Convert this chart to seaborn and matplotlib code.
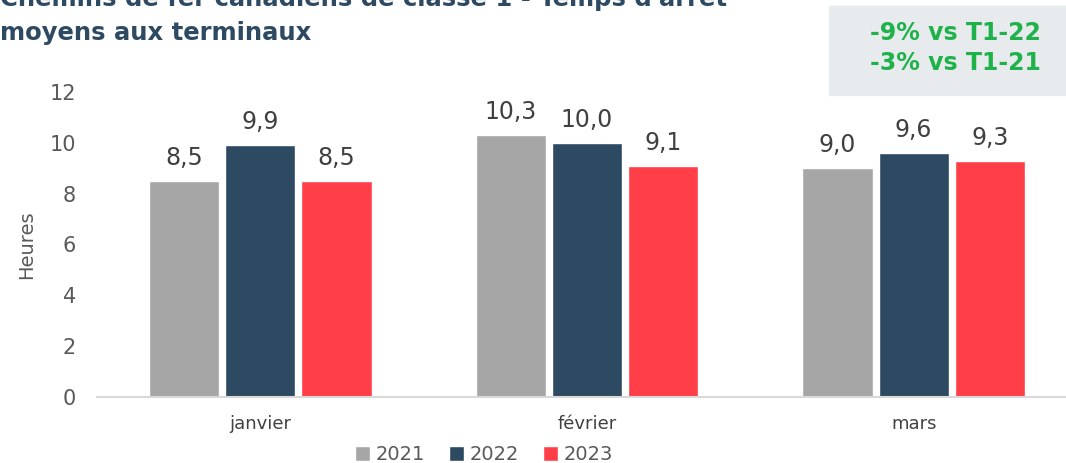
import pandas as pd
import matplotlib.pyplot as plt
import seaborn as sns
from matplotlib.patches import Rectangle

# data
mois = ["janvier", "février", "mars"]
annees = ["2021", "2022", "2023"]
v2021 = [8.5, 10.3, 9.0]
v2022 = [9.9, 10.0, 9.6]
v2023 = [8.5, 9.1, 9.3]
couleurs = ["#A6A6A6", "#2E4A62", "#FF3E48"]

df = pd.DataFrame({
    "mois": mois * 3,
    "annee": [a for a in annees for _ in mois],
    "heures": v2021 + v2022 + v2023,
})

sns.set_style("white")
plt.rcParams["font.family"] = ["DejaVu Sans"]

fig = plt.figure(figsize=(10.66, 4.63), dpi=100)
ax = fig.add_axes([97 / 1066, 66 / 463, 980 / 1066, 305 / 463])

sns.barplot(data=df, x="mois", y="heures", hue="annee", palette=couleurs,
            width=0.7, gap=0.08, saturation=1, ax=ax, legend=True)

for cont in ax.containers:
    ax.bar_label(cont, labels=[f"{v:.1f}".replace(".", ",") for v in cont.datavalues],
                 padding=8, fontsize=17, color="#404040")

ax.set_ylim(0, 12)
ax.set_yticks(range(0, 13, 2))
ax.set_xlim(-0.5, 2.5)
ax.set_xlabel("")
ax.set_ylabel("Heures", fontsize=14, color="#595959", labelpad=10)
ax.tick_params(axis="y", labelsize=15, labelcolor="#595959", length=0, pad=15)
ax.tick_params(axis="x", labelsize=13, labelcolor="#404040", length=0, pad=13)
sns.despine(ax=ax, left=True)
ax.spines["bottom"].set_color("#D9D9D9")
ax.spines["bottom"].set_linewidth(1.5)

# legend
handles, labels = ax.get_legend_handles_labels()
ax.get_legend().remove()
fig.legend(handles, labels, loc="center", bbox_to_anchor=(484 / 1066, 1 - 455 / 463),
           ncol=3, frameon=False, fontsize=14, labelcolor="#595959",
           handlelength=0.8, handleheight=0.8, handletextpad=0.3, columnspacing=1.2)

# title (top line clipped like the original)
fig.text(0, 1 - 6 / 463, "Chemins de fer canadiens de classe 1 - Temps d'arrêt",
         fontsize=17.5, fontweight="bold", color="#2E4A62", va="baseline")
fig.text(0, 1 - 40 / 463, "moyens aux terminaux",
         fontsize=17.5, fontweight="bold", color="#2E4A62", va="baseline")

# green annotation box
fig.patches.append(Rectangle((829 / 1066, 1 - 95 / 463), 240 / 1066, 89 / 463,
                             transform=fig.transFigure, color="#E8EBEE", zorder=0))
fig.text(955 / 1066, 1 - 33 / 463, "-9% vs T1-22", fontsize=17, fontweight="bold",
         color="#1FB24A", ha="center", va="center")
fig.text(955 / 1066, 1 - 63 / 463, "-3% vs T1-21", fontsize=17, fontweight="bold",
         color="#1FB24A", ha="center", va="center")

fig.savefig("out.png", dpi=100)
